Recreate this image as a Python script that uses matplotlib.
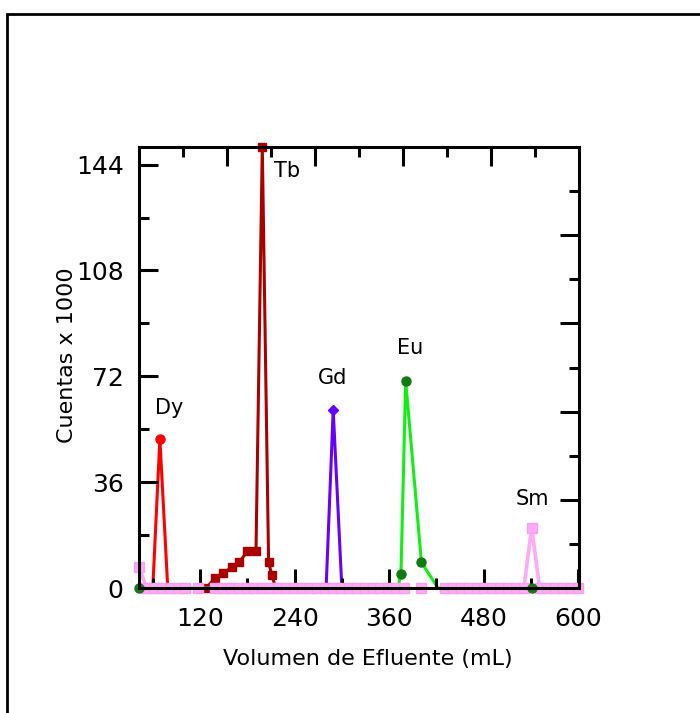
import matplotlib
matplotlib.use("Agg")
import matplotlib.pyplot as plt
import matplotlib.font_manager as fm
from matplotlib.patches import Rectangle
import numpy as np

# ---------------- data ----------------
dy_x = [60, 69, 79]
dy_y = [0, 50.7, 0]

tb_x = [128, 139, 149, 160, 170, 180, 191, 199, 207, 211, 216]
tb_y = [0, 3.4, 5.0, 7.0, 8.8, 12.5, 12.5, 150, 8.8, 4.5, 0]

gd_x = [280, 289, 300]
gd_y = [0, 60.5, 0]

eu_x = [43, 371, 375, 381, 401, 422, 541]
eu_y = [0, 0, 4.8, 70.4, 8.7, 0, 0]
eu_marked = [0, 2, 3, 4, 6]

sm_x = [43, 52, 62, 72, 82, 92, 101, np.nan,
        118, np.nan,
        139, 149, 159, 169, 179, 189, 199, 209, 219, 229, 239, 249, 259, 269,
        279, 289, 299, 309, 319, 329, 339, 349, 359, 369, 379, np.nan,
        400, np.nan,
        431, 441, 451, 461, 471, 481, 491, 501, 511, 521, 531, 541, 551, 561,
        571, 581, 591, 600]
sm_y = [7, 0, 0, 0, 0, 0, 0, np.nan,
        0, np.nan,
        0, 0, 0, 0, 0, 0, 0, 0, 0, 0, 0, 0, 0, 0,
        0, 0, 0, 0, 0, 0, 0, 0, 0, 0, 0, np.nan,
        0, np.nan,
        0, 0, 0, 0, 0, 0, 0, 0, 0, 0, 0, 20.5, 0, 0,
        0, 0, 0, 0]

labels = ["Dy", "Tb", "Gd", "Eu", "Sm"]
label_x = [80.6, 230.5, 287.6, 386.7, 541.5]
label_y = [61.2, 141.8, 71.4, 81.6, 30.3]

x_ticks = [120, 240, 360, 480, 600]
y_ticks = [0, 36, 72, 108, 144]

# ---------------- fonts ----------------
names = {f.name for f in fm.fontManager.ttflist}
if "Liberation Sans Narrow" in names:
    tick_family, tick_size = "Liberation Sans Narrow", 22
else:
    tick_family, tick_size = "DejaVu Sans", 18
plt.rcParams["font.family"] = ["DejaVu Sans"]

# ---------------- figure ----------------
W, H = 700, 713
fig = plt.figure(figsize=(W / 100, H / 100), dpi=100)
fig.add_artist(Rectangle((6.5 / W, -0.1), 2.0, (1 - 14.5 / H) + 0.1,
                         transform=fig.transFigure, fill=False,
                         lw=2.0, ec="black"))

left, right, top, bottom = 139, 579, 147, 588
pos = [left / W, (H - bottom) / H, (right - left) / W, (bottom - top) / H]
ax = fig.add_axes(pos)

ax.plot(dy_x, dy_y, color="#ff0000", lw=2.2, marker="o", ms=6.5,
        clip_on=False, zorder=2)
ax.plot(tb_x, tb_y, color="#aa0000", lw=2.2, marker="s", ms=6,
        clip_on=False, zorder=2)
ax.plot(gd_x, gd_y, color="#6600ff", lw=2.2, marker="D", ms=5.5,
        clip_on=False, zorder=2)
ax.plot(eu_x, eu_y, color="#11ee11", lw=2.2, clip_on=False, zorder=2)
ax.plot(sm_x, sm_y, color="#ffaaf4", lw=2.6, marker="s", ms=6.8,
        mec="#f7a0ef", clip_on=False, zorder=3)
ax.plot(eu_x, eu_y, ls="none", marker="o", ms=6.5, color="#127a12",
        markevery=eu_marked, clip_on=False, zorder=4)

for t, xx, yy in zip(labels, label_x, label_y):
    ax.text(xx, yy, t, fontsize=15, ha="center", va="center", color="black")

ax.set_xlim(42.5, 601)
ax.set_ylim(0, 150)
ax.set_xticks(x_ticks)
ax.set_yticks(y_ticks)
ax.set_xticks([60, 180, 300, 420, 540], minor=True)
ax.set_yticks([18, 54, 90, 126], minor=True)
for lab in ax.get_xticklabels() + ax.get_yticklabels():
    lab.set_family(tick_family)
    lab.set_fontsize(tick_size)
ax.tick_params(which="major", direction="in", length=13.5, width=2.2)
ax.tick_params(axis="x", which="major", pad=14)
ax.tick_params(axis="y", which="major", pad=11)
ax.tick_params(which="minor", direction="in", length=7, width=2.2)
ax.tick_params(top=False, right=False)
for sp in ax.spines.values():
    sp.set_linewidth(2.2)
    sp.set_zorder(10)
ax.set_axisbelow(False)

ax.set_xlabel("Volumen de Efluente (mL)", fontsize=16)
ax.set_ylabel("Cuentas x 1000", fontsize=16)
ax.xaxis.set_label_coords(0.520, -0.138)
ax.yaxis.set_label_coords(-0.142, 0.528)

# secondary (unlabelled) top and right scales
ax2 = fig.add_axes(pos, frameon=False)
ax2.set_xlim(0, 10)
ax2.set_ylim(0, 10)
ax2.set_xticks([2, 4, 6, 8])
ax2.set_yticks([2, 4, 6, 8])
ax2.set_xticks([1, 3, 5, 7, 9], minor=True)
ax2.set_yticks([1, 3, 5, 7, 9], minor=True)
ax2.tick_params(which="both", direction="in", width=2.2,
                bottom=False, left=False, top=True, right=True,
                labelbottom=False, labelleft=False,
                labeltop=False, labelright=False)
ax2.tick_params(which="major", length=14)
ax2.tick_params(which="minor", length=7)
ax2.patch.set_visible(False)

fig.savefig("out.png", dpi=100)
